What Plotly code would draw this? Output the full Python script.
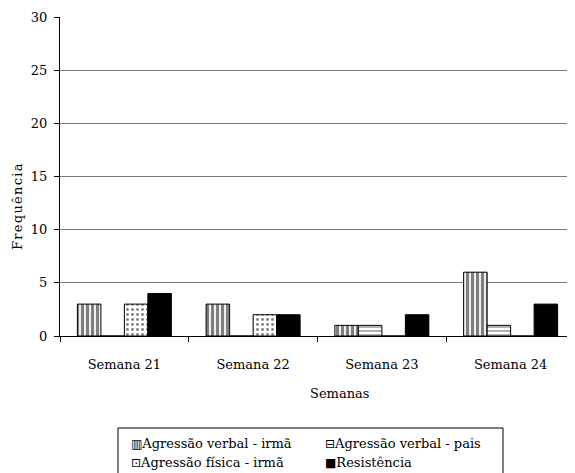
import plotly.graph_objects as go

categorias = ["Semana 21", "Semana 22", "Semana 23", "Semana 24"]
verbal_irma = [3, 3, 1, 6]
verbal_pais = [0, 0, 1, 1]
fisica_irma = [3, 2, 0, 0]
resistencia = [4, 2, 2, 3]

nomes = ["Agressão verbal - irmã", "Agressão verbal - pais",
         "Agressão física - irmã", "Resistência"]
simbolos = ["▥", "⊟", "⊡", "■"]

FONT = "DejaVu Serif"

OFF = 8  # page body margin
W, H = 575 - OFF, 473 - OFF
L, R, T = 60 - OFF, 0, 17 - OFF
B = H - (336 - OFF)
PW, PH = W - L - R, H - T - B


def px(x):
    return (x - OFF - L) / PW


def py(y):
    return (336 - y) / PH


fig = go.Figure()
fig.add_bar(x=categorias, y=verbal_irma, name=nomes[0],
            marker=dict(color="white", line=dict(color="black", width=1),
                        pattern=dict(shape="|", fgcolor="black", bgcolor="white", size=5, solidity=0.65)))
fig.add_bar(x=categorias, y=verbal_pais, name=nomes[1],
            marker=dict(color="white", line=dict(color="black", width=1),
                        pattern=dict(shape="-", fgcolor="black", bgcolor="white", size=4, solidity=0.3)))
fig.add_bar(x=categorias, y=fisica_irma, name=nomes[2],
            marker=dict(color="white", line=dict(color="black", width=1),
                        pattern=dict(shape=".", fgcolor="black", bgcolor="white", size=5, solidity=0.25)))
fig.add_bar(x=categorias, y=resistencia, name=nomes[3],
            marker=dict(color="black", line=dict(color="black", width=1)))

fig.update_layout(
    width=W, height=H,
    margin=dict(l=L, r=R, t=T, b=B, autoexpand=False),
    paper_bgcolor="white", plot_bgcolor="white",
    font=dict(family=FONT, size=13, color="black"),
    barmode="group", bargap=0.27, bargroupgap=0,
    showlegend=False,
)

# manual legend box
fig.add_shape(type="rect", xref="paper", yref="paper",
              x0=px(118), x1=px(503), y0=py(480), y1=py(428),
              line=dict(color="black", width=1), fillcolor="white", layer="above")
pos = [(129, 443), (323, 443), (129, 462), (323, 462)]
for (xx, yy), nome, sim in zip(pos, nomes, simbolos):
    fig.add_annotation(xref="paper", yref="paper", x=px(xx), y=py(yy),
                       xanchor="left", yanchor="middle", showarrow=False,
                       text=f"<span style='font-family:DejaVu Sans;font-size:12px'>{sim}</span>{nome}",
                       font=dict(family=FONT, size=13, color="black"))

# axis titles
fig.add_annotation(xref="paper", yref="paper", x=px(17), y=py(207),
                   xanchor="center", yanchor="middle", showarrow=False, textangle=-90,
                   text="\u200a".join("Frequência"), font=dict(family=FONT, size=13, color="black"))
fig.add_annotation(xref="paper", yref="paper", x=px(339), y=py(393),
                   xanchor="center", yanchor="middle", showarrow=False,
                   text="Semanas", font=dict(family=FONT, size=13, color="black"))

fig.update_xaxes(showline=True, linecolor="black", linewidth=1, automargin=False,
                 ticks="outside", ticklen=5, tickcolor="black", tickson="boundaries",
                 ticklabelstandoff=16, showgrid=False)
fig.update_yaxes(range=[0, 30], dtick=5, showline=True, linecolor="black", linewidth=1,
                 automargin=False,
                 ticks="outside", ticklen=5, tickcolor="black", ticklabelstandoff=4,
                 showgrid=True, gridcolor="#7a7a7a", gridwidth=1,
                 zeroline=False)

fig.write_html("out.html")
